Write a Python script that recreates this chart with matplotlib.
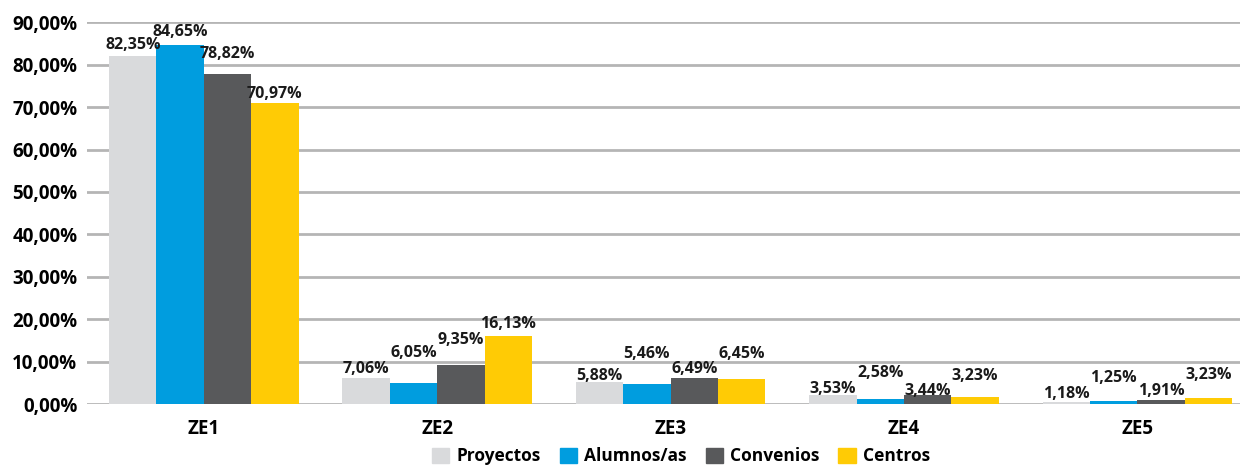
import numpy as np
import matplotlib.pyplot as plt
from matplotlib.ticker import FuncFormatter, MultipleLocator
from matplotlib.patches import Patch

plt.rcParams['font.family'] = ['Open Sans', 'DejaVu Sans']

# data (bar heights, %), and the printed labels
zonas = ['ZE1', 'ZE2', 'ZE3', 'ZE4', 'ZE5']
series = ['Proyectos', 'Alumnos/as', 'Convenios', 'Centros']
proyectos = [82.1, 6.1, 5.2, 2.2, 0.55]
alumnos = [84.7, 4.95, 4.7, 1.25, 0.75]
convenios = [77.8, 9.2, 6.1, 2.2, 1.0]
centros = [70.9, 16.1, 5.9, 1.7, 1.5]
etiquetas = [
    ['82,35%', '7,06%', '5,88%', '3,53%', '1,18%'],
    ['84,65%', '6,05%', '5,46%', '2,58%', '1,25%'],
    ['78,82%', '9,35%', '6,49%', '3,44%', '1,91%'],
    ['70,97%', '16,13%', '6,45%', '3,23%', '3,23%'],
]
colores = ['#d9dadc', '#009ddf', '#58595b', '#ffcb05']

# vertical offset of each label above its bar (layout only)
label_off = [
    [2.6, 2.1, 1.5, 1.3, 1.9],
    [3.1, 7.0, 7.0, 6.0, 5.4],
    [4.7, 5.9, 2.1, 0.9, 2.1],
    [2.2, 2.7, 5.8, 4.9, 5.4],
]

valores = [proyectos, alumnos, convenios, centros]

fig = plt.figure(figsize=(12.45, 4.66), dpi=100)
ax = fig.add_axes([0.07, 0.133, 0.926, 0.819])

x = np.arange(len(zonas))
w = 0.203
for i in range(len(series)):
    pos = x + (i - 1.5) * w
    ax.bar(pos, valores[i], width=w, color=colores[i], zorder=3)
    for j in range(len(zonas)):
        ax.text(pos[j], valores[i][j] + label_off[i][j], etiquetas[i][j],
                ha='center', va='center', fontsize=11.5, fontweight='bold',
                color='#1a1a1a', zorder=4)

ax.set_xlim(-0.5, 4.44)
ax.set_ylim(0, 90)
ax.yaxis.set_major_locator(MultipleLocator(10))
ax.yaxis.set_major_formatter(FuncFormatter(lambda v, p: f'{v:.2f}'.replace('.', ',') + '%'))
ax.grid(axis='y', color='#b5b5b5', linewidth=2, zorder=0)
ax.set_xticks(x)
ax.set_xticklabels(zonas, fontsize=13.5, fontweight='bold')
for lab in ax.get_yticklabels():
    lab.set_fontweight('bold')
    lab.set_fontsize(13.5)
ax.tick_params(length=0, pad=7)
ax.tick_params(axis='x', pad=11)
for s in ax.spines.values():
    s.set_visible(False)

handles = [Patch(color=c, label=n) for c, n in zip(colores, series)]
leg = fig.legend(handles=handles, loc='lower center', bbox_to_anchor=(0.547, -0.032),
                 ncol=4, frameon=False, handlelength=1.0, handleheight=1.0,
                 handletextpad=0.4, columnspacing=1.1,
                 prop={'weight': 'bold', 'size': 12.5})

fig.savefig('out.png', dpi=100)
